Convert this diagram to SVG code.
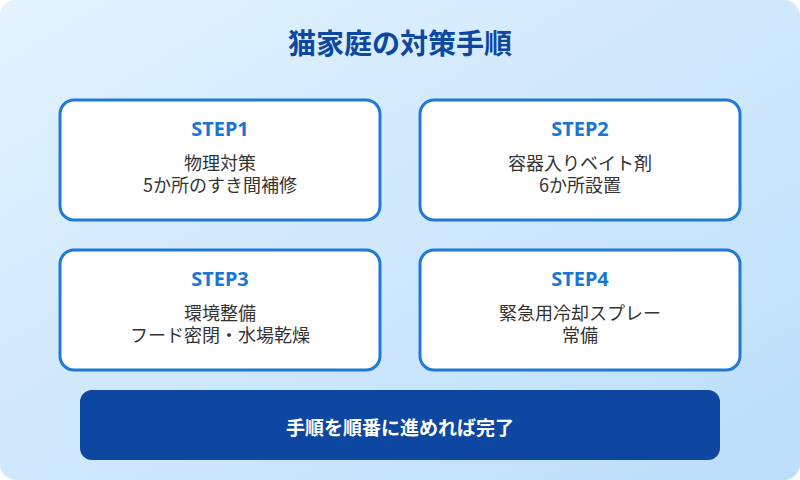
<svg xmlns="http://www.w3.org/2000/svg" width="800" height="480" viewBox="0 0 800 480">
<defs>
<linearGradient id="bg" x1="0" y1="0" x2="1" y2="1">
<stop offset="0" stop-color="#e3f2fd"/>
<stop offset="1" stop-color="#bbdefb"/>
</linearGradient>
</defs>
<style>
.card{fill:#fff;stroke:#1e7ad6;stroke-width:3}
.step{font-family:"Noto Sans","Noto Sans CJK JP",sans-serif;font-weight:bold;font-size:20px;fill:#1976d2;text-anchor:middle}
.body{font-family:"Noto Sans CJK JP",sans-serif;font-size:18px;fill:#333;text-anchor:middle}
.title{font-family:"Noto Sans CJK JP",sans-serif;font-weight:bold;font-size:28px;fill:#0d47a1;text-anchor:middle}
.foot{font-family:"Noto Sans CJK JP",sans-serif;font-weight:bold;font-size:19px;fill:#fff;text-anchor:middle}
</style>
<rect x="0" y="0" width="800" height="480" fill="#fff"/>
<rect x="0" y="0" width="800" height="480" rx="16" fill="url(#bg)"/>
<text class="title" x="400" y="54">猫家庭の対策手順</text>
<g id="step1">
<rect class="card" x="60" y="100" width="320" height="120" rx="14"/>
<text class="step" x="220" y="136">STEP1</text>
<text class="body" x="220" y="170">物理対策</text>
<text class="body" x="220" y="192">5か所のすき間補修</text>
</g>
<g id="step2">
<rect class="card" x="420" y="100" width="320" height="120" rx="14"/>
<text class="step" x="580" y="136">STEP2</text>
<text class="body" x="580" y="170">容器入りベイト剤</text>
<text class="body" x="580" y="192">6か所設置</text>
</g>
<g id="step3">
<rect class="card" x="60" y="250" width="320" height="120" rx="14"/>
<text class="step" x="220" y="286">STEP3</text>
<text class="body" x="220" y="320">環境整備</text>
<text class="body" x="220" y="342">フード密閉・水場乾燥</text>
</g>
<g id="step4">
<rect class="card" x="420" y="250" width="320" height="120" rx="14"/>
<text class="step" x="580" y="286">STEP4</text>
<text class="body" x="580" y="320">緊急用冷却スプレー</text>
<text class="body" x="580" y="342">常備</text>
</g>
<g id="footer">
<rect x="80" y="390" width="640" height="70" rx="12" fill="#0d47a1"/>
<text class="foot" x="400" y="435">手順を順番に進めれば完了</text>
</g>
<g id="connectors"/>
</svg>
